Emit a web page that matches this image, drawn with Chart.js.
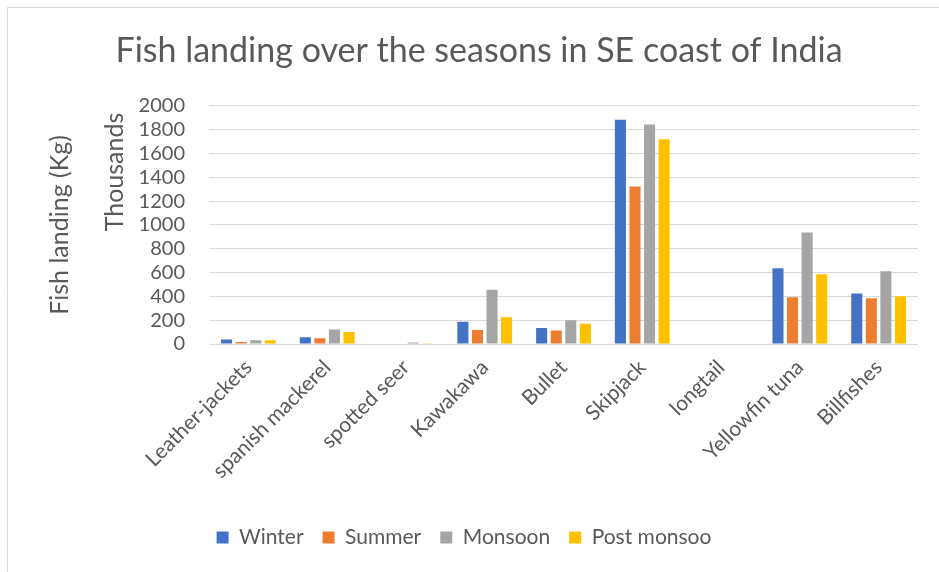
<!DOCTYPE html>
<html>
<head>
<meta charset="utf-8">
<script src="https://cdn.jsdelivr.net/npm/chart.js@4/dist/chart.umd.min.js"></script>
<style>
html,body{margin:0;padding:0;background:#fff;}
#wrap{width:939px;height:572px;position:relative;}
</style>
</head>
<body>
<div id="wrap"><canvas id="c" width="939" height="572"></canvas></div>
<script>
const categories = ["Leather-jackets","spanish mackerel","spotted seer","Kawakawa","Bullet","Skipjack","longtail","Yellowfin tuna","Billfishes"];
const winter     = [37, 57, 5, 187, 134, 1882, 0, 637, 424];
const summer     = [17, 48, 5, 117, 114, 1322, 0, 392, 384];
const monsoon    = [31, 122, 12, 455, 200, 1842, 0, 936, 611];
const postMonsoon= [31, 100, 3, 225, 170, 1719, 0, 586, 401];
const seriesNames = ["Winter","Summer","Monsoon","Post monsoo"];
const yTickValues = [0,200,400,600,800,1000,1200,1400,1600,1800,2000];
const titleText = "Fish landing over the seasons in SE coast of India";
const yTitle = "Fish landing (Kg)";
const yUnit = "Thousands";

const FONT = "Lato, 'Open Sans', sans-serif";
const TXT = "#595959";

const framePlugin = {
  id: 'frame',
  afterLayout(chart){
    if (chart.titleBlock) { chart.titleBlock.left = 40; }
    if (chart.legend) { chart.legend.left += 5; chart.legend.right += 5; }
  },
  beforeDraw(chart){
    const ctx = chart.ctx;
    ctx.save();
    ctx.fillStyle = '#fff';
    ctx.fillRect(0,0,chart.width,chart.height);
    ctx.strokeStyle = '#D9D9D9';
    ctx.lineWidth = 1;
    ctx.beginPath();
    ctx.moveTo(7.5, chart.height);
    ctx.lineTo(7.5, 7.5);
    ctx.lineTo(chart.width, 7.5);
    ctx.stroke();
    ctx.restore();
  },
  afterDraw(chart){
    const ctx = chart.ctx;
    const a = chart.chartArea;
    ctx.save();
    ctx.fillStyle = TXT;
    ctx.font = "25px " + FONT;
    ctx.textAlign = 'center';
    ctx.textBaseline = 'middle';
    ctx.translate(60, (a.top + a.bottom)/2);
    ctx.rotate(-Math.PI/2);
    ctx.fillText(yTitle, 0, 0);
    ctx.restore();
    ctx.save();
    ctx.fillStyle = TXT;
    ctx.font = "25px " + FONT;
    ctx.textAlign = 'center';
    ctx.textBaseline = 'middle';
    ctx.translate(115, 172);
    ctx.rotate(-Math.PI/2);
    ctx.fillText(yUnit, 0, 0);
    ctx.restore();
  }
};

const colors = ["#4472C4","#ED7D31","#A5A5A5","#FFC000"];
const values = [winter, summer, monsoon, postMonsoon];

new Chart(document.getElementById('c'), {
  type: 'bar',
  data: {
    labels: categories,
    datasets: seriesNames.map((n,i)=>({
      label: n,
      data: values[i],
      backgroundColor: colors[i],
      borderWidth: 0,
      categoryPercentage: 0.74,
      barPercentage: 0.76
    }))
  },
  options: {
    responsive: false,
    animation: false,
    devicePixelRatio: 1,
    layout: { padding: { left: 0, right: 21, top: 0, bottom: 14 } },
    plugins: {
      title: {
        display: true,
        text: titleText,
        color: TXT,
        font: { family: FONT, size: 34, weight: 'normal' },
        padding: { top: 31, bottom: 34 }
      },
      legend: {
        position: 'bottom',
        labels: {
          color: TXT,
          font: { family: FONT, size: 21 },
          boxWidth: 12,
          boxHeight: 12,
          padding: 19
        }
      },
      tooltip: { enabled: false }
    },
    scales: {
      x: {
        grid: { display: false, drawTicks: false },
        border: { display: false },
        ticks: {
          color: TXT,
          font: { family: FONT, size: 21 },
          minRotation: 45,
          maxRotation: 45,
          autoSkip: false,
          padding: 11
        },
        afterFit(s){ s.height = 164; }
      },
      y: {
        min: 0, max: 2000,
        grid: { color: '#D9D9D9', lineWidth: 1, drawTicks: false },
        border: { display: false },
        afterBuildTicks(s){ s.ticks = yTickValues.map(v => ({ value: v })); },
        ticks: {
          autoSkip: false,
          color: TXT,
          font: { family: FONT, size: 20 },
          padding: 24,
          callback: v => String(v)
        },
        afterFit(s){ s.width = 209; }
      }
    }
  },
  plugins: [framePlugin]
});
</script>
</body>
</html>
